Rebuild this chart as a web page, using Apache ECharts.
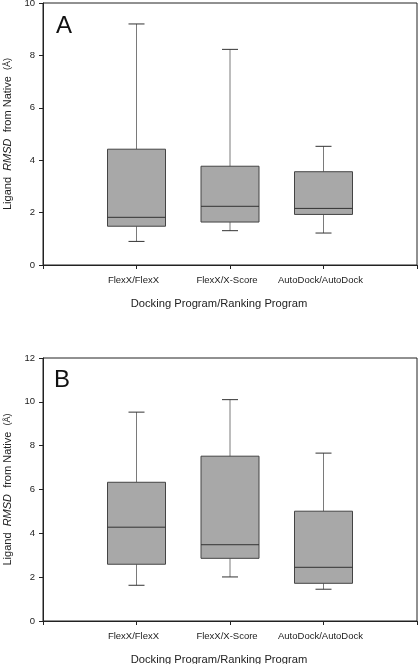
<!DOCTYPE html>
<html>
<head>
<meta charset="utf-8">
<script src="https://cdn.jsdelivr.net/npm/echarts@6/dist/echarts.min.js"></script>
<style>html,body{margin:0;padding:0;background:#fff}#c{width:418px;height:664px}</style>
</head>
<body>
<div id="c"></div>
<script>
// Categories (positions 1..3 on the x axis)
const categories = ['FlexX/FlexX', 'FlexX/X-Score', 'AutoDock/AutoDock'];
// Panel A: [min, Q1, median, Q3, max]
const panelA = [
  [0.90, 1.48, 1.82, 4.42, 9.20],
  [1.31, 1.64, 2.24, 3.77, 8.23],
  [1.22, 1.93, 2.16, 3.56, 4.53]
];
// Panel B
const panelB = [
  [1.63, 2.59, 4.28, 6.33, 9.53],
  [2.01, 2.86, 3.48, 7.52, 10.10],
  [1.45, 1.72, 2.45, 5.01, 7.66]
];
const yTicksA = [0, 2, 4, 6, 8, 10];
const yTicksB = [0, 2, 4, 6, 8, 10, 12];
const xTitle = 'Docking Program/Ranking Program';
const panelLabels = ['A', 'B'];

const FONT = 'Liberation Sans, Arial, sans-serif';
const chart = echarts.init(document.getElementById('c'), null, {renderer: 'canvas'});

function xAxis(gridIndex) {
  return {
    type: 'value', gridIndex, min: 0, max: categories.length + 1, interval: 1,
    name: xTitle, nameLocation: 'middle', nameGap: 33,
    nameTextStyle: {fontFamily: FONT, fontSize: 11.2, color: '#222', padding: [0, 22, 0, 0]},
    axisLine: {show: true, lineStyle: {color: '#222', width: 1}},
    axisTick: {show: true, length: 4, lineStyle: {color: '#222'}},
    splitLine: {show: false},
    axisLabel: {
      fontFamily: FONT, fontSize: 9.5, color: '#222', margin: 10, padding: [0, 6, 0, 0],
      formatter: v => (v >= 1 && v <= categories.length) ? categories[v - 1] : ''
    }
  };
}
function yAxis(gridIndex, ticks) {
  return {
    type: 'value', gridIndex, min: ticks[0], max: ticks[ticks.length - 1], interval: ticks[1] - ticks[0],
    name: '{a|Ligand  }{b|RMSD}{a|  from Native  }{c|(Å)}', nameLocation: 'middle', nameGap: 30,
    nameTextStyle: {
      fontFamily: FONT, color: '#222',
      rich: {
        a: {fontFamily: FONT, fontSize: 11, color: '#222'},
        b: {fontFamily: FONT, fontSize: 11, fontStyle: 'italic', color: '#222'},
        c: {fontFamily: FONT, fontSize: 9, color: '#222'}
      }
    },
    axisLine: {show: true, lineStyle: {color: '#222', width: 1}},
    axisTick: {show: true, length: 4, lineStyle: {color: '#222'}},
    splitLine: {show: false},
    axisLabel: {fontFamily: FONT, fontSize: 9.5, color: '#222', margin: 8}
  };
}
const BOX_W = 58, CAP_W = 16;
function renderBox(params, api) {
  const x = api.value(0);
  const [cx, yMin] = api.coord([x, api.value(1)]);
  const yQ1 = api.coord([x, api.value(2)])[1];
  const yMed = api.coord([x, api.value(3)])[1];
  const yQ3 = api.coord([x, api.value(4)])[1];
  const yMax = api.coord([x, api.value(5)])[1];
  const h = BOX_W / 2, c = CAP_W / 2;
  const dark = {stroke: '#333', lineWidth: 1};
  const light = {stroke: '#7a7a7a', lineWidth: 1};
  return {
    type: 'group',
    children: [
      {type: 'line', shape: {x1: cx, y1: yQ3, x2: cx, y2: yMax}, style: light},
      {type: 'line', shape: {x1: cx, y1: yQ1, x2: cx, y2: yMin}, style: light},
      {type: 'line', shape: {x1: cx - c, y1: yMax, x2: cx + c, y2: yMax}, style: dark},
      {type: 'line', shape: {x1: cx - c, y1: yMin, x2: cx + c, y2: yMin}, style: dark},
      {type: 'rect', shape: {x: cx - h, y: yQ3, width: BOX_W, height: yQ1 - yQ3}, style: {fill: '#a8a8a8', stroke: '#444', lineWidth: 1}},
      {type: 'line', shape: {x1: cx - h, y1: yMed, x2: cx + h, y2: yMed}, style: dark}
    ]
  };
}
function boxSeries(idx, values) {
  return {
    type: 'custom', xAxisIndex: idx, yAxisIndex: idx,
    renderItem: renderBox,
    data: values.map((v, i) => [i + 1].concat(v)),
    encode: {x: 0, y: [1, 2, 3, 4, 5]},
    silent: true
  };
}

chart.setOption({
  animation: false,
  backgroundColor: '#fff',
  grid: [
    {left: 43, right: 1, top: 3, bottom: 399, show: true, borderColor: '#222', borderWidth: 1, containLabel: false, outerBoundsMode: 'none'},
    {left: 43, right: 1, top: 358, bottom: 43, show: true, borderColor: '#222', borderWidth: 1, containLabel: false, outerBoundsMode: 'none'}
  ],
  xAxis: [xAxis(0), xAxis(1)],
  yAxis: [yAxis(0, yTicksA), yAxis(1, yTicksB)],
  series: [boxSeries(0, panelA), boxSeries(1, panelB)],
  graphic: [
    {type: 'text', left: 56, top: 14, style: {text: panelLabels[0], font: '24px ' + FONT, fill: '#111'}},
    {type: 'text', left: 54, top: 368, style: {text: panelLabels[1], font: '24px ' + FONT, fill: '#111'}}
  ]
});
</script>
</body>
</html>
